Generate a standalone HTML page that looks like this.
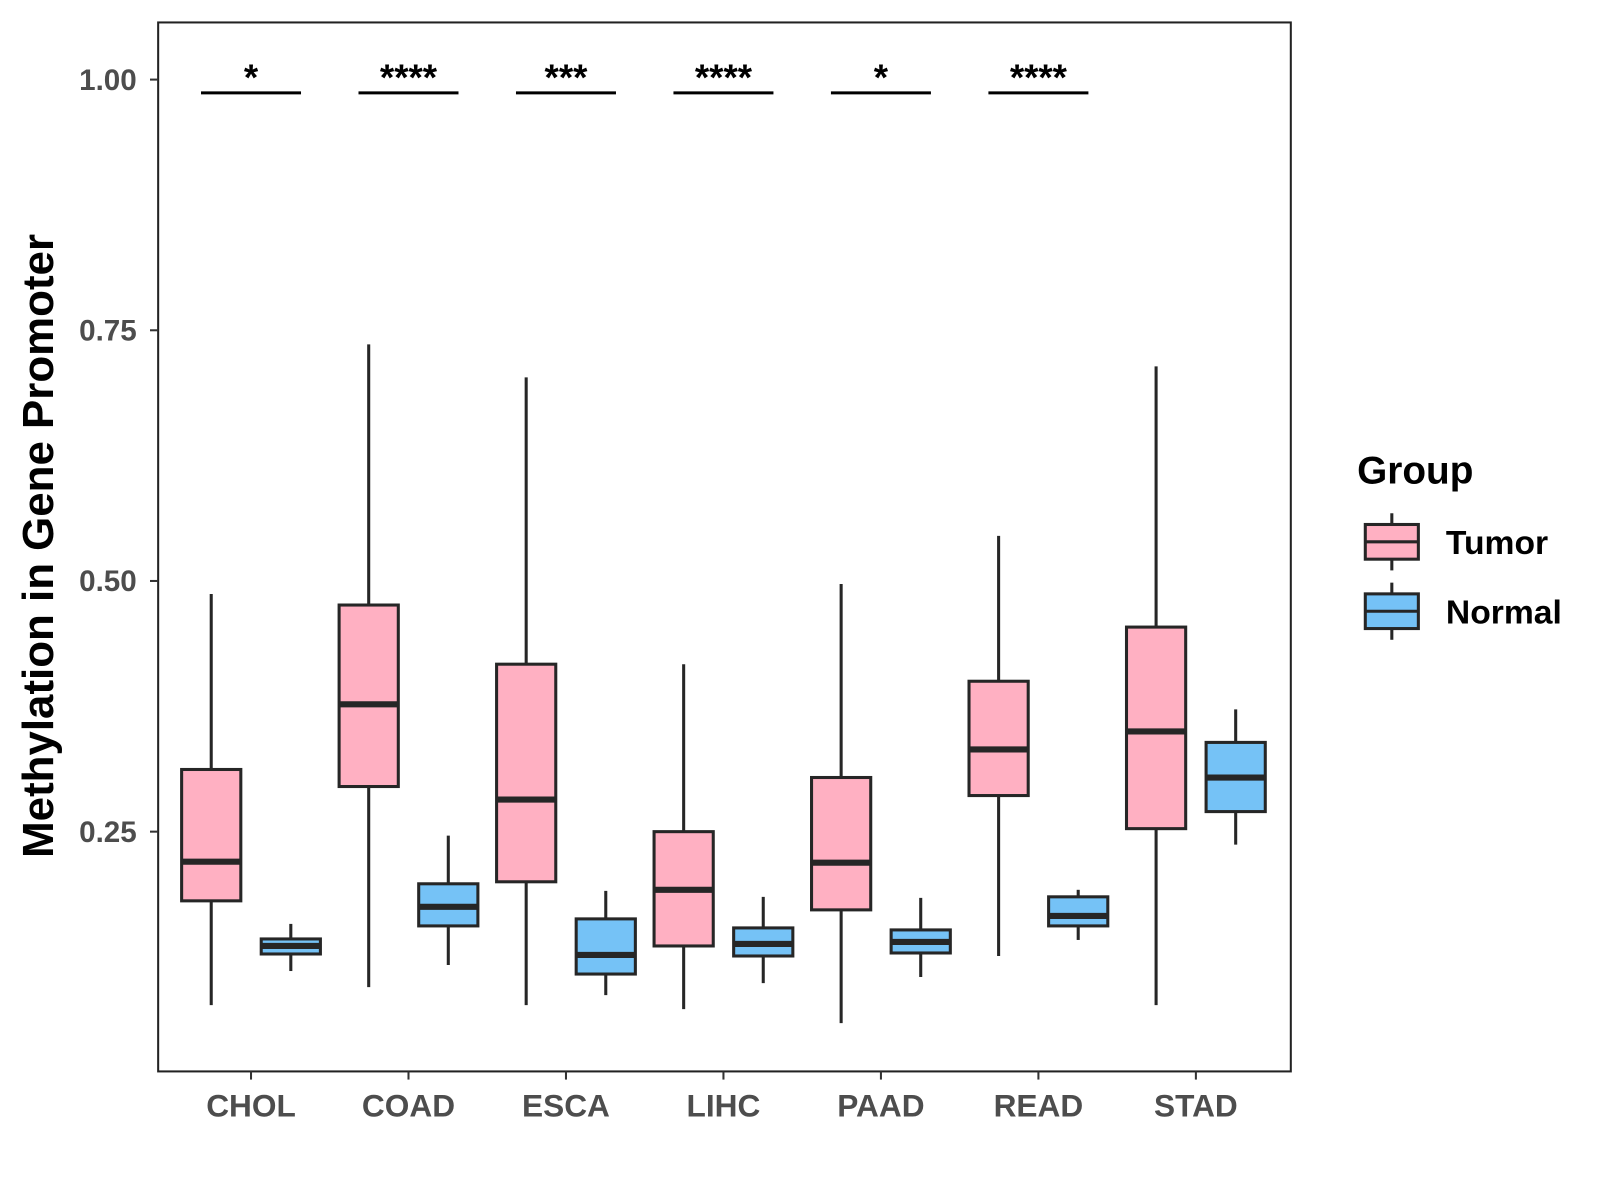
<!DOCTYPE html>
<html><head><meta charset="utf-8"><style>
html,body{margin:0;padding:0;background:#fff;}
svg{display:block;font-family:"Liberation Sans",Arial,sans-serif;}
</style></head><body>
<svg id="chart" width="1600" height="1200" viewBox="0 0 1600 1200">
<g transform="scale(1.0204)">
<rect x="155" y="22" width="1110" height="1028" fill="#fff" stroke="#222" stroke-width="2"/>
<g id="marks"></g>
<g id="axes"></g>
<text transform="translate(52,535) rotate(-90)" text-anchor="middle" font-size="43" font-weight="bold" fill="#000">Methylation in Gene Promoter</text>
<g>
<text x="1330" y="474" font-size="38" font-weight="bold">Group</text>
<g>
<line x1="1364" y1="503" x2="1364" y2="559" stroke="#262626" stroke-width="3"/>
<rect x="1338" y="514" width="52" height="34" fill="#FFB0C2" stroke="#262626" stroke-width="3"/>
<line x1="1338" y1="531" x2="1390" y2="531" stroke="#262626" stroke-width="3"/>
<text x="1417" y="543" font-size="33" font-weight="bold">Tumor</text>
</g>
<g>
<line x1="1364" y1="571" x2="1364" y2="627" stroke="#262626" stroke-width="3"/>
<rect x="1338" y="582" width="52" height="34" fill="#75C2F6" stroke="#262626" stroke-width="3"/>
<line x1="1338" y1="599" x2="1390" y2="599" stroke="#262626" stroke-width="3"/>
<text x="1417" y="611" font-size="33" font-weight="bold">Normal</text>
</g>
</g>
</g>
</svg>
<script>
const categories=["CHOL","COAD","ESCA","LIHC","PAAD","READ","STAD"];
// [low, q1, median, q3, high]
const tumorStats=[[0.077,0.181,0.220,0.312,0.487],[0.095,0.295,0.377,0.476,0.736],[0.077,0.200,0.282,0.417,0.703],[0.073,0.136,0.192,0.250,0.417],[0.059,0.172,0.219,0.304,0.497],[0.126,0.286,0.332,0.400,0.545],[0.077,0.253,0.350,0.454,0.714]];
const normalStats=[[0.111,0.128,0.136,0.143,0.158],[0.117,0.156,0.175,0.198,0.246],[0.087,0.108,0.127,0.163,0.191],[0.099,0.126,0.138,0.154,0.185],[0.105,0.129,0.140,0.152,0.184],[0.142,0.156,0.166,0.185,0.192],[0.237,0.270,0.304,0.339,0.372]];
const sigLabels=["*","****","***","****","*","****",""];
const yTicks=[0.25,0.5,0.75,1.0];
const yTickLabels=["0.25","0.50","0.75","1.00"];

const NS="http://www.w3.org/2000/svg";
const y=v=>78+(1-v)*982.7;
const x=i=>246+i*154.33;
const marks=document.getElementById('marks'), axes=document.getElementById('axes');
function mk(tag,attrs,parent){const e=document.createElementNS(NS,tag);for(const k in attrs)e.setAttribute(k,attrs[k]);parent.appendChild(e);return e;}
function box(cx,s,fill,name){
  const g=mk('g',{},marks);
  
  
  const w=58;
  mk('line',{x1:cx,x2:cx,y1:y(s[4]),y2:y(s[0]),stroke:'#262626','stroke-width':3},g);
  mk('rect',{x:cx-w/2,y:y(s[3]),width:w,height:y(s[1])-y(s[3]),fill:fill,stroke:'#262626','stroke-width':3},g);
  mk('line',{x1:cx-w/2,x2:cx+w/2,y1:y(s[2]),y2:y(s[2]),stroke:'#262626','stroke-width':6},g);
}
categories.forEach((c,i)=>{
  box(x(i)-39,tumorStats[i],'#FFB0C2','box-tumor-'+c.toLowerCase());
  box(x(i)+39,normalStats[i],'#75C2F6','box-normal-'+c.toLowerCase());
  if(sigLabels[i]){
    const l=mk('line',{x1:x(i)-49,x2:x(i)+49,y1:91,y2:91,stroke:'#000','stroke-width':3},marks);
    
    
    const t=mk('text',{x:x(i),y:88,'text-anchor':'middle','font-size':36,'font-weight':'bold'},marks);
    t.textContent=sigLabels[i];
    
    
  }
  mk('line',{x1:x(i),x2:x(i),y1:1050,y2:1058,stroke:'#333','stroke-width':2},axes);
  const t=mk('text',{x:x(i),y:1094,'text-anchor':'middle','font-size':31,'font-weight':'bold',fill:'#4d4d4d'},axes);
  t.textContent=c;
  
  
});
yTicks.forEach((v,i)=>{
  mk('line',{x1:147,x2:155,y1:y(v),y2:y(v),stroke:'#333','stroke-width':2},axes);
  const t=mk('text',{x:134,y:y(v)+10,'text-anchor':'end','font-size':29,'font-weight':'bold',fill:'#4d4d4d'},axes);
  t.textContent=yTickLabels[i];
  
  
});
</script>
</body></html>
